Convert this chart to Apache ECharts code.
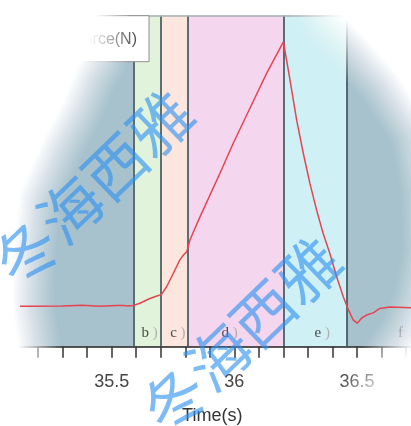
<!DOCTYPE html>
<html>
<head>
<meta charset="utf-8">
<script src="https://cdn.jsdelivr.net/npm/echarts@6/dist/echarts.min.js"></script>
<style>
html,body{margin:0;padding:0;background:#fff;}
#c{width:411px;height:426px;}
</style>
</head>
<body>
<div id="c"></div>
<script>
// ---- data ----
const times = [35.126, 35.200, 35.300, 35.380, 35.386, 35.450, 35.520, 35.525, 35.550, 35.560,
  35.588, 35.615, 35.656, 35.690, 35.704, 35.724, 35.751, 35.778, 35.792, 35.806,
  35.812, 35.819, 35.860, 35.941, 35.996, 36.064, 36.132, 36.200, 36.227, 36.254,
  36.281, 36.308, 36.335, 36.362, 36.389, 36.417, 36.444, 36.465, 36.485, 36.501,
  36.509, 36.519, 36.539, 36.566, 36.593, 36.634, 36.720];
const forces = [0, 0, 1, 3, 0, 0, 2, 0, 2, 1,
  2, 8, 21, 29, 33, 53, 89, 126, 139, 148,
  162, 180, 243, 361, 444, 539, 634, 719, 615, 506,
  416, 334, 262, 198, 144, 80, 26, -10, -38, -46,
  -46, -32, -24, -18, -6, -2, -4];
const bandEdges = [35.588, 35.705, 35.810, 36.201, 36.458, 36.72];
const bandLetters = ['b', 'c', 'd', 'e', 'f'];
const bandColors = ['#e2f3dc', '#fce6dd', '#f4d6ee', '#cff0f5', null];
const bandLabelOffsets = [2, 3, -6, 7, 26];
const tickLabels = ['35.5', '36', '36.5'];
const seriesName = 'Force(N)';
const axisName = 'Time(s)';
const watermark = '冬海西雅';

// ---- build ----
const lineData = times.map((t, i) => [t, forces[i]]);
const areas = [];
for (let i = 0; i < bandLetters.length; i++) {
  areas.push([
    {
      xAxis: bandEdges[i],
      itemStyle: { color: bandColors[i] || 'rgba(0,0,0,0)' },
      label: {
        show: true, position: 'insideBottom', distance: 6, offset: [bandLabelOffsets[i], 0],
        formatter: '{a|' + bandLetters[i] + '}{p| )}',
        rich: {
          a: { fontFamily: 'Liberation Serif', fontSize: 15, color: '#4a4a4a' },
          p: { fontFamily: 'Liberation Serif', fontSize: 15, color: '#b0b0b0' }
        }
      }
    },
    { xAxis: bandEdges[i + 1] }
  ]);
}
const vlines = bandEdges.slice(0, 5).map(v => ({ xAxis: v }));
vlines.push({ yAxis: 790, lineStyle: { color: '#a9b0b3', width: 1.5 } });

// soft spotlight (photo vignette): white outside a blob, feathered with stacked layers
const blob = [[118,-40],[300,-40],[312,10],[322,25],[350,53],[380,87],[411,135],[422,190],
  [424,250],[414,300],[400,330],[385,352],[366,381],[345,410],[320,450],[250,480],[150,480],
  [60,440],[45,400],[40,347],[33,300],[35,250],[40,200],[62,150],[83,110],[95,80],[106,62],[112,42]];
function offsetBlob(d) {
  const n = blob.length;
  return blob.map((p, i) => {
    const a = blob[(i - 1 + n) % n], b = blob[(i + 1) % n];
    const dx = b[0] - a[0], dy = b[1] - a[1], L = Math.hypot(dx, dy);
    return [p[0] + d * dy / L, p[1] - d * dx / L];
  });
}
const outer = [[-400,-400],[811,-400],[811,826],[-400,826],[-400,-400]];
const FEATHER = 22, LAYERS = 18;
const maskLayers = [];
for (let j = 1; j <= LAYERS; j++) {
  const d = -FEATHER + (j - 0.5) * (2 * FEATHER / LAYERS);
  const hole = offsetBlob(d);
  const pts = outer.concat([hole[0]], hole.slice().reverse(), [[-400,-400]]);
  maskLayers.push({
    type: 'polygon', silent: true, z: 7,
    shape: { points: pts },
    style: { fill: 'rgba(255,255,255,' + (1 / (LAYERS - j + 1)).toFixed(4) + ')' }
  });
}

const chart = echarts.init(document.getElementById('c'), null, { renderer: 'canvas' });
chart.setOption({
  animation: false,
  backgroundColor: '#fff',
  grid: {
    show: true, left: 13.5, right: 0, top: 15.7, bottom: 79.3,
    outerBoundsMode: 'none', containLabel: false,
    backgroundColor: '#a7c1cd', borderWidth: 0, z: 0
  },
  legend: {
    show: true, z: 3,
    data: [seriesName],
    right: 262, top: 15.7,
    padding: [16, 12, 14, 12],
    itemWidth: 25, itemHeight: 14,
    backgroundColor: '#fff', borderColor: '#8f8f8f', borderWidth: 1, borderRadius: 0,
    textStyle: { fontFamily: 'Liberation Sans', fontSize: 16, color: '#555' }
  },
  xAxis: {
    type: 'value', min: 35.1, max: 36.72, interval: 0.1, z: 1,
    name: axisName, nameLocation: 'middle', nameGap: 60,
    nameTextStyle: { fontFamily: 'Liberation Sans', fontSize: 18, color: '#333' },
    axisLine: { show: true, onZero: false, lineStyle: { color: '#222', width: 1.5 } },
    axisTick: { show: true, length: 11, lineStyle: { color: '#333', width: 1.5 } },
    splitLine: { show: false },
    axisLabel: {
      margin: 26, fontFamily: 'Liberation Sans', fontSize: 18, color: '#444',
      showMinLabel: true, showMaxLabel: true,
      formatter: function (v) {
        const s = String(Math.round(v * 10) / 10);
        return tickLabels.indexOf(s) >= 0 ? s : '';
      }
    }
  },
  yAxis: { type: 'value', min: -110, max: 790, show: false },
  series: [
    {
      name: 'bands', type: 'line', data: [], z: 1, silent: true,
      markArea: { silent: true, z: 1, data: areas },
      markLine: {
        silent: true, z: 2, symbol: ['none', 'none'], label: { show: false },
        lineStyle: { type: 'solid', color: '#3b4f57', width: 1.6 },
        data: vlines
      }
    },
    {
      name: seriesName, type: 'line', data: lineData, z: 8,
      showSymbol: false, symbol: 'none',
      lineStyle: { color: '#e64550', width: 1.5 },
      itemStyle: { color: '#e64550' }
    }
  ],
  graphic: maskLayers.concat([
    {
      type: 'text', silent: true, z: 10, x: 93, y: 188, rotation: 44 * Math.PI / 180,
      style: { text: watermark, fontFamily: 'Noto Sans CJK SC', fontSize: 62,
        fill: 'rgba(45,145,240,0.62)', align: 'center', verticalAlign: 'middle' }
    },
    {
      type: 'text', silent: true, z: 10, x: 241, y: 335, rotation: 44 * Math.PI / 180,
      style: { text: watermark, fontFamily: 'Noto Sans CJK SC', fontSize: 62,
        fill: 'rgba(45,145,240,0.62)', align: 'center', verticalAlign: 'middle' }
    }
  ])
});
</script>
</body>
</html>
